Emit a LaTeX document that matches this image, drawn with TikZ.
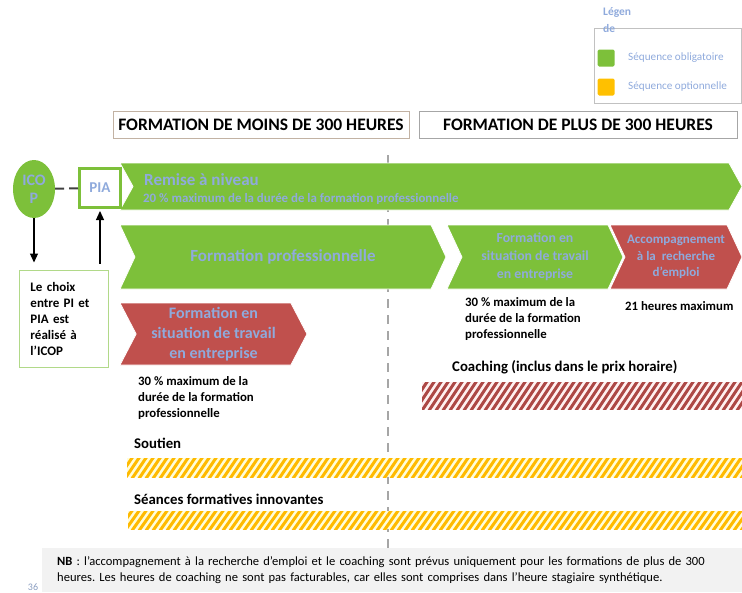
\documentclass[tikz,border=0pt]{standalone}
\usepackage{fontspec}
\setmainfont{Carlito}
\frenchspacing
\usetikzlibrary{shapes.geometric, shapes.symbols, arrows.meta, positioning}

\definecolor{obligvert}{HTML}{7DC03A}
\definecolor{optjaune}{HTML}{FFC000}
\definecolor{rougeseq}{HTML}{C0504D}
\definecolor{bleutexte}{HTML}{8FAADC}
\definecolor{gristrait}{HTML}{A6A6A6}

\tikzstyle{chevron} = [signal, signal to=east, signal from=west, fill=obligvert, draw=white, line width=0.8pt, text=bleutexte, font=\bfseries, align=center, inner sep=0pt]
\tikzstyle{arrow} = [line width=1.2pt, -{Triangle[length=9pt,width=8pt]}]
\tikzstyle{header} = [rectangle, draw=gristrait, line width=0.8pt, minimum height=27, font=\bfseries\fontsize{17.5}{20}\selectfont, text centered]
\tikzset{
	note/.style={anchor=north west, inner sep=0pt, align=left, font=\bfseries\fontsize{12.8}{16}\selectfont},
	bandlabel/.style={anchor=west, inner sep=0pt, font=\bfseries\fontsize{14.8}{17}\selectfont},
	legendtext/.style={anchor=west, inner sep=0pt, text=bleutexte, font=\fontsize{11.2}{13}\selectfont},
	swatch/.style={rectangle, rounded corners=1.5pt, minimum size=17, inner sep=0pt}
}

\begin{document}
\begin{tikzpicture}[x=1pt, y=-1pt]
	\useasboundingbox (0,0) rectangle (742,592);
	
	% Separation between the two formations
	\draw [gristrait, line width=2.5pt, dash pattern=on 9pt off 7pt] (388,155) -- (388,548);
	
	% Legend
	\node (legframe) [draw=gristrait!70, line width=0.8pt, minimum width=147, minimum height=75, anchor=north west, inner sep=0pt] at (594,28) {};
	\node (legtitle) [anchor=north west, align=left, inner sep=0pt, text=bleutexte, font=\bfseries\fontsize{11.5}{17}\selectfont] at (603,7) {Légen\\de};
	\node (oblig) [swatch, fill=obligvert] at (606,58) {};
	\node (obligtxt) [legendtext] at (628,58) {Séquence obligatoire};
	\node (option) [swatch, fill=optjaune] at (606,87) {};
	\node (optiontxt) [legendtext] at (628,87) {Séquence optionnelle};
	
	% Headers
	\node (moins) [header, draw=brown!40!gray!60, minimum width=296] at (261,124.5) {FORMATION DE MOINS DE 300 HEURES};
	\node (plus) [header, minimum width=318] at (578,124.5) {FORMATION DE PLUS DE 300 HEURES};
	
	% Remise a niveau
	\node (remise) [chevron, minimum width=622, minimum height=47, signal pointer angle=122] at (431,186.5) {};
	\node (remisetxt) [anchor=west, inner sep=0pt, text=bleutexte, font=\bfseries\fontsize{17}{19}\selectfont] at (144,180) {Remise à niveau};
	\node (remisesub) [anchor=west, inner sep=0pt, text=bleutexte, font=\bfseries\fontsize{12.9}{14}\selectfont] at (143,199) {20 \% maximum de la durée de la formation professionnelle};
	
	% ICOP and PIA
	\node (icop) [ellipse, fill=obligvert, minimum width=42, minimum height=58, inner sep=0pt, align=center, text=bleutexte, font=\bfseries\fontsize{16}{18}\selectfont] at (34,189) {ICO\\P};
	\node (pia) [rectangle, draw=obligvert, line width=3pt, fill=white, minimum width=41, minimum height=39, text=bleutexte, font=\bfseries\fontsize{15}{17}\selectfont] at (100,188) {PIA};
	\draw [black!75, line width=2pt, dash pattern=on 9pt off 5pt] (icop) -- (pia);
	
	% Formation professionnelle
	\node (formpro) [chevron, minimum width=326, minimum height=64, signal pointer angle=130, font=\bfseries\fontsize{17}{19}\selectfont] at (283,257) {Formation professionnelle};
	\node (situplus) [chevron, minimum width=176, minimum height=64, signal pointer angle=130, font=\bfseries\fontsize{13.8}{18}\selectfont] at (535,257) {Formation en\\situation de travail\\en entreprise};
	\node (accomp) [chevron, fill=rougeseq, minimum width=132, minimum height=64, signal pointer angle=130, font=\bfseries\fontsize{13}{16.5}\selectfont] at (676,257) {Accompagnement\\à la~ recherche\\d’emploi};
	\node (situmoins) [chevron, fill=rougeseq, minimum width=187, minimum height=62, signal pointer angle=125, font=\bfseries\fontsize{16}{20}\selectfont] at (213.5,334) {Formation en\\situation de travail\\en entreprise};
	
	% Notes under the sequences
	\node (notemoins) [note] at (138,376) {30 \% maximum de la\\durée de la formation\\professionnelle};
	\node (noteplus) [note] at (465,297) {30 \% maximum de la\\durée de la formation\\professionnelle};
	\node (noteaccomp) [note] at (625,301) {21 heures maximum};
	
	% Choice PI / PIA
	\node (choix) [rectangle, draw=obligvert!60, line width=1pt, minimum width=89, minimum height=97, text width=66, align=left, inner sep=0pt, font=\bfseries\fontsize{13}{16}\selectfont] at (63.5,318.5) {Le choix\\entre PI et\\PIA est\\réalisé à\\l’ICOP};
	\draw [arrow, shorten >=7pt] (icop) -- (icop |- choix.north);
	\draw [arrow, shorten <=6pt, shorten >=2pt] (pia |- choix.north) -- (pia);
	
	% Coaching
	\node (coaching) [bandlabel] at (452,367) {Coaching (inclus dans le prix horaire)};
	\begin{scope}
		\clip (422,382) rectangle (742,409);
		\fill [red!6] (422,382) rectangle (742,409);
		\foreach \x in {400,407,...,750}
			\draw [rougeseq!90!black, line width=3pt] (\x,412) -- (\x+22,379);
	\end{scope}
	
	% Soutien
	\node (soutien) [bandlabel] at (134,443) {Soutien};
	\begin{scope}
		\clip (127,458) rectangle (742,477);
		\fill [yellow!15] (127,458) rectangle (742,477);
		\foreach \x in {110,117,...,750}
			\draw [optjaune!90!orange, line width=3pt] (\x,480) -- (\x+17,455);
	\end{scope}
	
	% Seances formatives innovantes
	\node (seances) [bandlabel] at (134,499) {Séances formatives innovantes};
	\begin{scope}
		\clip (128,511) rectangle (742,529);
		\fill [yellow!15] (128,511) rectangle (742,529);
		\foreach \x in {110,117,...,750}
			\draw [optjaune!90!orange, line width=3pt] (\x,532) -- (\x+17,508);
	\end{scope}
	
	% NB
	\node (nb) [fill=gray!10, anchor=north west, minimum height=44, text width=672, inner xsep=15pt, inner ysep=0pt, align=left, font=\fontsize{12.55}{16}\selectfont] at (42,548) {\textbf{NB} : l’accompagnement à la recherche d’emploi et le coaching sont prévus uniquement pour les formations de plus de 300\\heures. Les heures de coaching ne sont pas facturables, car elles sont comprises dans l’heure stagiaire synthétique.};
	\node (page) [anchor=south, inner sep=0.5pt, text=bleutexte!70!gray, font=\fontsize{10}{12}\selectfont] at (33,591) {36};
	
\end{tikzpicture}
\end{document}
